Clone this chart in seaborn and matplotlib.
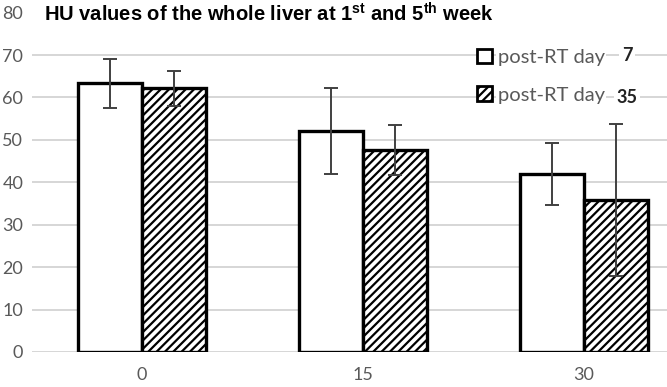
import pandas as pd
import matplotlib
matplotlib.use("Agg")
import matplotlib.pyplot as plt
import matplotlib.patches as mpatches
import seaborn as sb

# values
doses = ["0", "15", "30"]
day7 = [63.3, 52.1, 42.0]
day7_err = [5.7, 10.2, 7.3]
day35 = [62.2, 47.6, 35.8]
day35_err = [4.1, 5.9, 17.9]
groups = ["7", "35"]
yticks = [0, 10, 20, 30, 40, 50, 60, 70, 80]

sb.set_style("white")
plt.rcParams["font.family"] = ["Lato", "DejaVu Sans"]
plt.rcParams["hatch.linewidth"] = 1.6
plt.rcParams["hatch.color"] = "black"
plt.rcParams["mathtext.fontset"] = "custom"
plt.rcParams["mathtext.bf"] = "Liberation Sans:bold"

df = pd.DataFrame({
    "dose": doses * 2,
    "HU": day7 + day35,
    "err": day7_err + day35_err,
    "day": [groups[0]] * 3 + [groups[1]] * 3,
})

fig = plt.figure(figsize=(6.67, 3.87), dpi=100)
ax = fig.add_axes([31.5 / 667, 35 / 387, 663 / 667, 339.4 / 387])

sb.barplot(data=df, x="dose", y="HU", hue="day", hue_order=groups,
           order=doses, width=0.575, gap=0, errorbar=None,
           palette=["white", "white"], edgecolor="black", linewidth=2.4,
           legend=False, ax=ax)

bars = [p for p in ax.patches if isinstance(p, mpatches.Rectangle)]
for i, p in enumerate(bars):
    if i >= 3:
        p.set_hatch("////")
    p.set_zorder(3)

# error bars at the bar centres
xs = [p.get_x() + p.get_width() / 2 for p in bars]
ys = [p.get_height() for p in bars]
ax.errorbar(xs, ys, yerr=day7_err + day35_err, fmt="none", ecolor="#404040",
            elinewidth=1.4, capsize=5, capthick=1.4, zorder=4)

ax.set_ylim(0, 80)
ax.set_yticks(yticks)
ax.set_xlim(-0.5, 2.5)
ax.yaxis.grid(True, color="#d0d0d0", linewidth=1.2)
ax.set_axisbelow(True)
ax.get_ygridlines()[-1].set_visible(False)
for s in ax.spines.values():
    s.set_visible(False)
ax.tick_params(axis="both", length=0, labelsize=13, labelcolor="#595959")
ax.tick_params(axis="y", pad=6)
ax.tick_params(axis="x", pad=11)
ax.set_xlabel("")
ax.set_ylabel("")

fig.text(0.066, 0.965, r"HU values of the whole liver at 1$^{\mathbf{st}}$ and 5$^{\mathbf{th}}$ week",
         fontsize=14.5, fontweight="bold", family=["Liberation Sans", "DejaVu Sans"],
         va="center", ha="left", color="black")

# legend
h7 = mpatches.Patch(facecolor="white", edgecolor="black", linewidth=2)
h35 = mpatches.Patch(facecolor="white", edgecolor="black", linewidth=2, hatch="////")
leg = ax.legend([h7, h35], ["post-RT day", "post-RT day"], loc="upper left",
                bbox_to_anchor=(437 / 663, 1 - 28 / 339.4), frameon=False,
                fontsize=14.5, labelspacing=1.0, handlelength=0.75, handleheight=0.75,
                handletextpad=0.3, borderaxespad=0)
for t in leg.get_texts():
    t.set_color("#595959")
    t.set_bbox(dict(facecolor="white", edgecolor="none", pad=1))
xnum = (627 - 31.5) / 663
ax.text(xnum, 70, "7", transform=ax.get_yaxis_transform(),
        fontsize=13, fontweight="bold", va="center", ha="center", color="#222222",
        bbox=dict(facecolor="white", edgecolor="none", pad=2))
ax.text(xnum, 60, "35", transform=ax.get_yaxis_transform(),
        fontsize=13, fontweight="bold", va="center", ha="center", color="#222222",
        bbox=dict(facecolor="white", edgecolor="none", pad=2))

fig.savefig("out.png", dpi=100)
